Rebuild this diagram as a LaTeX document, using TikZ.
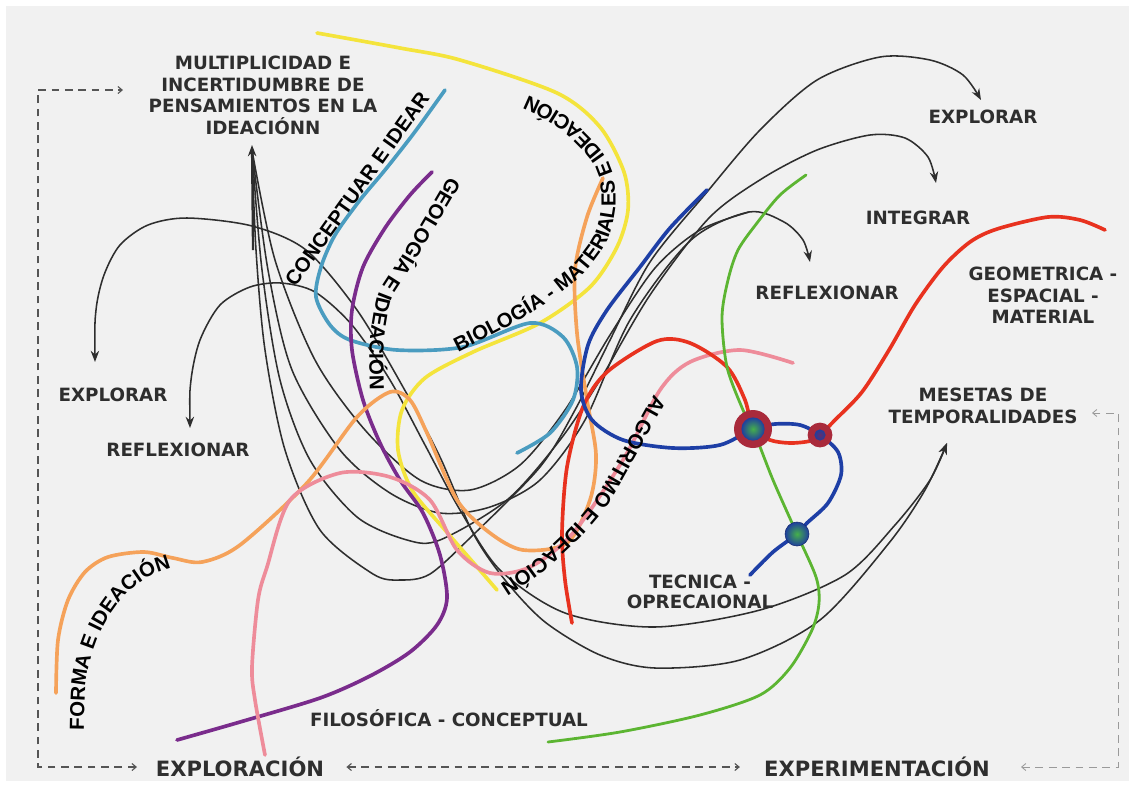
\documentclass[tikz,border=0pt]{standalone}
\usepackage{fontspec}
\newfontfamily\tagfont{DejaVu Sans}
\newfontfamily\arcfont{Liberation Sans}
\usetikzlibrary{arrows.meta,decorations.text}
\definecolor{paper}{HTML}{F1F1F1}
\definecolor{ink}{HTML}{2E2E2E}
\definecolor{dashink}{HTML}{555555}
\definecolor{dashlight}{HTML}{9A9A9A}
\definecolor{stryellow}{HTML}{F4E43C}
\definecolor{strteal}{HTML}{4A9CC0}
\definecolor{strpurple}{HTML}{7A2C8C}
\definecolor{strorange}{HTML}{F5A25A}
\definecolor{strpink}{HTML}{EE8C9A}
\definecolor{strred}{HTML}{E8321F}
\definecolor{strblue}{HTML}{1E3FA6}
\definecolor{strgreen}{HTML}{5CB532}
\definecolor{hubred}{HTML}{A92A3B}
\definecolor{hubblue}{HTML}{1F3F9E}
\definecolor{hubgreen}{HTML}{45B04A}
\begin{document}
\begin{tikzpicture}[x=0.025cm,y=-0.025cm,
  tag/.style={font=\tagfont\bfseries\fontsize{13}{15.4}\selectfont,text=ink,align=center,inner sep=0pt},
  bigtag/.style={tag,font=\tagfont\bfseries\fontsize{15}{18}\selectfont},
  arctag/.style={font=\arcfont\bfseries\fontsize{14.5}{15}\selectfont,text=black,inner sep=0pt},
  arclabel/.style={decorate,decoration={text along path,text color=black,text align=left,
    text={|\arcfont\bfseries\fontsize{14.5}{15}\selectfont|#1}}},
  thread/.style={draw=ink,line width=1.1pt},
  arr/.style={thread,-{Stealth[length=8pt,width=6pt]}},
  twoarr/.style={thread,{Stealth[length=8pt,width=6pt]}-{Stealth[length=8pt,width=6pt]}},
  strand/.style={line width=2.6pt,line cap=round},
  dashloop/.style={draw=dashink,line width=0.8pt,dash pattern=on 5.5pt off 4pt,
    {Straight Barb[length=3pt,width=5pt]}-{Straight Barb[length=3pt,width=5pt]}},
  lightloop/.style={dashloop,draw=dashlight,line width=0.6pt},
  hub/.style={circle,inner sep=0pt}]
  % canvas
  \fill[white] (0,0) rectangle (1129,791);
  \fill[paper] (6,6) rectangle (1129,781);
  \useasboundingbox (0,0) rectangle (1129,791);

  % labels
  \node[tag] (multi) at (263,95.5) {MULTIPLICIDAD E\\INCERTIDUMBRE DE\\PENSAMIENTOS EN LA\\IDEACIÓNN};
  \node[tag] (explr) at (983,117) {EXPLORAR};
  \node[tag] (integ) at (918,218) {INTEGRAR};
  \node[tag] (reflr) at (827,293) {REFLEXIONAR};
  \node[tag] (geom) at (1043,295.5) {GEOMETRICA -\\ESPACIAL -\\MATERIAL};
  \node[tag] (meset) at (983,406) {MESETAS DE\\TEMPORALIDADES};
  \node[tag] (expll) at (113,395) {EXPLORAR};
  \node[tag] (refll) at (178,450) {REFLEXIONAR};
  \node[tag,font=\tagfont\bfseries\fontsize{13}{14.2}\selectfont] (tecn) at (700,592) {TECNICA -\\OPRECAIONAL};
  \node[tag] (filo) at (449,718) {FILOSÓFICA - CONCEPTUAL};
  \node[bigtag] (explo) at (240,767) {EXPLORACIÓN};
  \node[bigtag] (exper) at (877,767) {EXPERIMENTACIÓN};

  % dashed loops
  \coordinate (ltop) at (123,90);
  \coordinate (lbot) at (137,767);
  \coordinate (rtop) at (1092,413);
  \coordinate (rbot) at (1021,767);
  \draw[dashloop] (lbot) -- (38,767) -- (38,90) -- (ltop);
  \draw[dashloop] (explo.east) ++(22,0) -- ([xshift=-0.6cm]exper.west);
  \draw[lightloop] (rbot) -- (1118,767) -- (1118,413) -- (rtop);

  % threads
  \coordinate (multitip) at (252,145);
  \coordinate (mesetip) at (947,443);
  \draw[arr,line width=1.6pt] (253,250) -- (multitip);
  \draw[arr] plot[smooth] coordinates {(252,150) (256,250) (265,350) (285,450) (320,530) (373,574) (400,580) (430,574) (473,535) (540,467) (575,410) (610,340) (650,262) (707,192) (760,130) (817,80) (880,57) (930,60) (963,75) (981,100)};
  \draw[arr] plot[smooth] coordinates {(252,150) (262,270) (280,380) (310,460) (357,517) (407,540) (440,540) (507,500) (560,440) (600,380) (650,295) (709,218) (763,178) (817,150) (870,135) (905,138) (928,157) (936,183)};
  \draw[arr] plot[smooth] coordinates {(252,150) (268,270) (292,370) (340,450) (390,493) (440,513) (490,507) (540,480) (585,420) (630,320) (691,240) (749,212) (784,222) (803,240) (810,262)};
  \draw[thread] plot[smooth] coordinates {(252,150) (275,260) (315,360) (365,430) (420,480) (470,490) (520,465) (565,410) (610,335) (655,268) (700,230) (749,212)};
  \draw[twoarr] plot[smooth] coordinates {(95,362) (96,310) (104,275) (120,245) (148,225) (187,218) (252,226) (306,250) (357,310) (403,387) (440,457) (473,533) (505,580) (545,622) (600,655) (655,668) (740,660) (820,620) (889,543) (925,490) (mesetip)};
  \draw[twoarr] plot[smooth] coordinates {(190,428) (191,380) (200,340) (220,305) (250,287) (281,283) (315,292) (352,325) (390,380) (425,445) (460,510) (500,570) (565,613) (655,627) (760,610) (845,575) (895,525) (930,480) (mesetip)};

  % strands
  \draw[strand,stryellow] plot[smooth] coordinates {(317,33) (400,48) (460,60) (557,93) (600,127) (624,172) (628,210) (617,247) (590,287) (540,323) (473,352) (425,378) (402,410) (398,450) (412,490) (445,530) (478,568) (497,590)};
  \draw[strand,strteal] plot[smooth] coordinates {(445,90) (414,133) (385,170) (360,200) (335,235) (321,267) (316,297) (330,325) (350,340) (397,350) (463,347) (530,323) (563,337) (577,367) (573,400) (550,433) (517,453)};
  \draw[strand,strpurple] plot[smooth] coordinates {(432,172) (410,195) (385,228) (363,267) (352,310) (352,350) (363,400) (380,443) (400,480) (423,513) (440,555) (447,598) (437,625) (410,652) (370,676) (320,698) (240,722) (177,740)};
  \draw[strand,strorange] plot[smooth] coordinates {(56,693) (58,640) (68,600) (85,572) (108,557) (144,552) (173,558) (202,562) (240,545) (307,483) (357,417) (390,392) (410,400) (427,433) (457,500) (490,533) (523,550) (567,543) (590,500) (596,455) (587,400) (577,333) (575,270) (587,217) (603,178)};
  \draw[strand,strpink] plot[smooth] coordinates {(265,755) (255,700) (252,667) (258,600) (267,567) (290,500) (340,473) (390,477) (430,500) (457,550) (490,573) (530,567) (573,533) (623,460) (660,390) (690,362) (740,350) (793,363)};
  \draw[strand,strred] plot[smooth] coordinates {(572,623) (565,580) (562,533) (567,467) (583,407) (607,372) (657,341) (690,343) (727,367) (745,400) (753,429) (770,440) (790,443) (810,441) (820,435) (835,420) (862,392) (889,350) (915,305) (943,267) (970,242) (997,229) (1048,217) (1080,220) (1105,230)};
  \draw[strand,strblue] plot[smooth] coordinates {(707,190) (670,228) (640,267) (607,310) (588,345) (581,390) (592,420) (623,440) (673,448) (720,445) (753,429) (775,424) (800,425) (820,435) (838,452) (841,475) (828,503) (807,523) (797,534) (773,552) (750,575)};
  \draw[strand,strgreen,line width=2pt] plot[smooth] coordinates {(806,175) (780,195) (757,223) (738,250) (728,280) (722,317) (727,367) (743,410) (753,429) (773,480) (797,534) (816,577) (819,603) (812,630) (790,668) (760,695) (700,715) (620,732) (548,742)};

  % hubs
  \node[hub,fill=hubred,minimum size=0.95cm] (hubbig) at (753,429) {};
  \node[hub,inner color=hubgreen,outer color=hubblue,minimum size=0.58cm] (hubbigcore) at (hubbig) {};
  \node[hub,fill=hubred,minimum size=0.62cm] (hubsmall) at (820,435) {};
  \node[hub,inner color=hubblue!70!red,outer color=hubblue,minimum size=0.28cm] (hubsmallcore) at (hubsmall) {};
  \node[hub,inner color=hubgreen,outer color=hubblue,draw=hubblue!70!black,minimum size=0.6cm] (hublow) at (797,534) {};

  % strand labels
  \node[arctag,rotate=54.5] (concep) at (357,189) {CONCEPTUAR E IDEAR};
  \path[arclabel={BIOLOGÍA - MATERIALES E IDEACIÓN}] plot[smooth] coordinates {(458,352) (505,328) (551,300) (582,275) (606,243) (615,210) (614,180) (606,158) (590,138) (568,118) (540,101) (510,89) (470,78) (440,72)};
  \path[arclabel={GEOLOGÍA E IDEACIÓN}] plot[smooth] coordinates {(449,176) (422,222) (398,262) (378,295) (370,340) (370,395) (371,430)};
  \path[arclabel={ALGORITMO E IDEACIÓN}] plot[smooth] coordinates {(654,394) (622,452) (594,500) (568,530) (535,560) (499,585) (470,600)};
  \path[arclabel={FORMA E IDEACIÓN}] plot[smooth] coordinates {(84,730) (86,680) (95,645) (108,618) (127,593) (150,576) (175,567) (205,562)};
\end{tikzpicture}
\end{document}
